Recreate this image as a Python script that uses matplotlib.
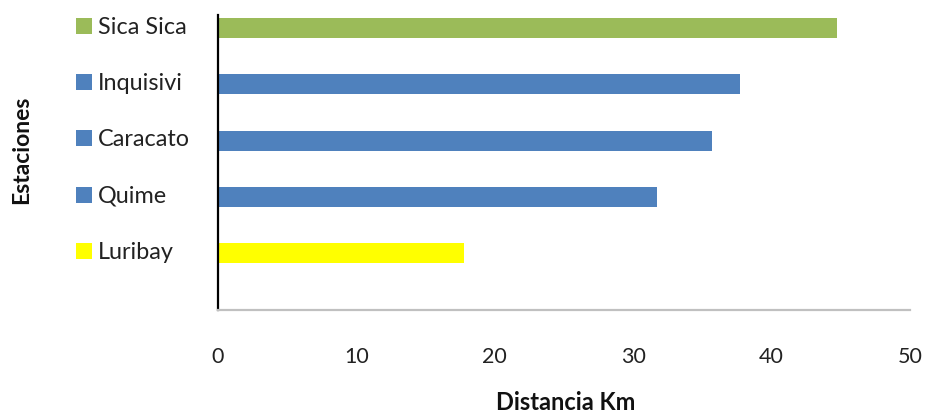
import matplotlib
matplotlib.use("Agg")
import matplotlib.pyplot as plt
from matplotlib.transforms import blended_transform_factory

plt.rcParams['font.family'] = ['Lato', 'DejaVu Sans']

estaciones = ["Luribay", "Quime", "Caracato", "Inquisivi", "Sica Sica"]
distancia = [17.8, 31.7, 35.7, 37.7, 44.7]
colores = ["#FFFF00", "#4F81BD", "#4F81BD", "#4F81BD", "#9BBB59"]

fig = plt.figure(figsize=(9.27, 4.14), dpi=100)
ax = fig.add_axes([0.2352, 0.2488, 0.7465, 0.7126])

ypos = range(len(estaciones))
ax.barh(ypos, distancia, height=0.355, color=colores, edgecolor='none')

ax.set_xlim(0, 50)
ax.set_ylim(-1.01, 4.23)
ax.set_xticks([0, 10, 20, 30, 40, 50])
ax.tick_params(axis='x', length=0, pad=26, labelsize=15.5, labelcolor='#222222')
ax.set_yticks([])

for s in ['top', 'right']:
    ax.spines[s].set_visible(False)
ax.spines['left'].set_color('black')
ax.spines['left'].set_linewidth(1.6)
ax.spines['bottom'].set_color('#c0c0c0')
ax.spines['bottom'].set_linewidth(1.6)

# category labels with a colour key in front of each
trans = blended_transform_factory(fig.transFigure, ax.transData)
for y, name, c in zip(ypos, estaciones, colores):
    ax.scatter([84 / 927], [y + 0.04], s=125, marker='s', color=c,
               transform=trans, clip_on=False, linewidths=0)
    ax.text(98 / 927, y + 0.03, name, transform=trans, fontsize=16.8,
            color='#222222', va='center', ha='left')

fig.text(566 / 927, 1 - 391 / 414, "Distancia Km", ha='center', va='top',
         fontsize=17, fontweight='bold', color='#111111')
fig.text(22 / 927, 1 - 150 / 414, "Estaciones", ha='center', va='center',
         rotation=90, fontsize=16.5, fontweight='bold', color='#111111')

fig.savefig("out.png", dpi=100)
